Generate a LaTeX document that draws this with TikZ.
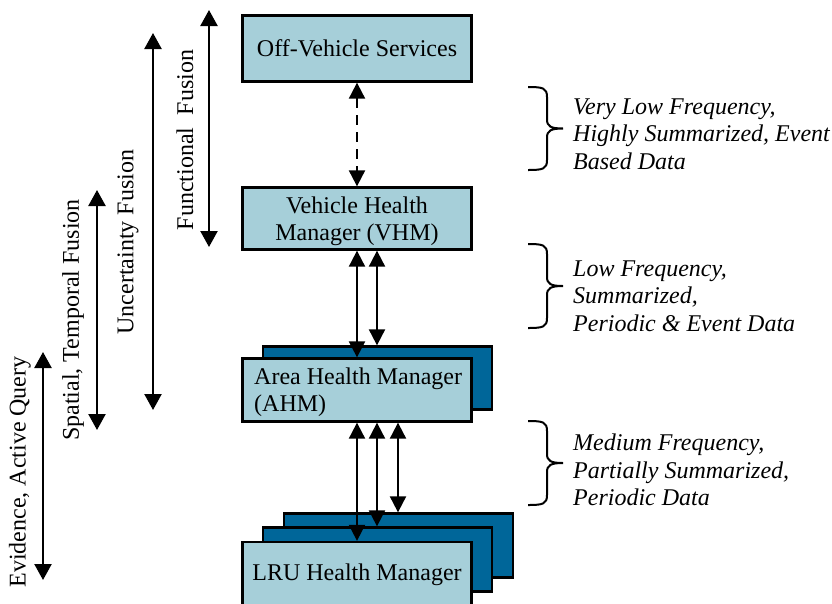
\documentclass[tikz,border=0pt]{standalone}
\usepackage{fontspec}
\setmainfont{Liberation Serif}
\usetikzlibrary{arrows.meta,calc}
\definecolor{boxfill}{RGB}{166,207,217}
\definecolor{stackfill}{RGB}{0,102,153}

% curly bracket opening to the left, tip pointing right: {x}{top}{bottom}
\newcommand\curlybrace[3]{%
  \pgfmathsetmacro\bmid{(#2+#3)/2}%
  \draw[bracepen] (#1,#2) .. controls (#1+15,#2) and (#1+19,#2+1) .. (#1+19,#2+10)
    -- (#1+19,\bmid-9) .. controls (#1+19,\bmid-2) and (#1+23,\bmid) .. (#1+35,\bmid)
    .. controls (#1+23,\bmid) and (#1+19,\bmid+2) .. (#1+19,\bmid+9)
    -- (#1+19,#3-10) .. controls (#1+19,#3-1) and (#1+15,#3) .. (#1,#3);%
}

\begin{document}
\begin{tikzpicture}[x=1pt,y=-1pt,
  font=\fontsize{24}{27.5}\selectfont,
  box/.style={draw, line width=2.3pt, fill=boxfill, minimum width=229pt,
    inner sep=0pt, align=center, font=\fontsize{24}{26}\selectfont},
  stackbox/.style={draw, line width=2.3pt, fill=stackfill, minimum width=229pt, inner sep=0pt},
  boxtext/.style={inner sep=0pt, font=\fontsize{24}{26.5}\selectfont},
  link/.style={line width=2pt, {Triangle[width=16pt,length=16pt]}-{Triangle[width=16pt,length=16pt]}},
  dashlink/.style={link, dash pattern=on 10pt off 7pt},
  span/.style={line width=2.3pt, {Triangle[width=17pt,length=16pt]}-{Triangle[width=17pt,length=16pt]}},
  spanlabel/.style={rotate=90, inner sep=0pt},
  note/.style={anchor=west, align=left, inner sep=0pt, font=\fontsize{24}{27.5}\selectfont\itshape},
  bracepen/.style={line width=2pt}]

\useasboundingbox (0,0) rectangle (832,603);
\clip (0,0) rectangle (832,603);

% health-management hierarchy
\node[box, minimum height=66pt] (ovs) at (357,48.5) {Off-Vehicle Services};
\node[box, minimum height=62pt] (vhm) at (357,218.5) {};
\node[boxtext, align=center] (vhmtext) at (357,221.5) {Vehicle Health\\Manager (VHM)};

\node[stackbox, minimum height=63pt] (ahmback) at (377.5,378) {};
\node[box, minimum height=63pt] (ahm) at (357,390) {};
\node[boxtext, anchor=west, align=left] (ahmtext) at (254,392) {Area Health Manager\\(AHM)};

\node[stackbox, minimum height=64pt] (lruback) at (398.5,545.5) {};
\node[stackbox, minimum height=64pt] (lrumid) at (377.5,559.5) {};
\node[box, minimum height=66pt] (lru) at (357,575) {LRU Health Manager};

% data links between levels
\coordinate (xb) at (377,0);
\coordinate (xc) at (398,0);
\draw[dashlink] (ovs.south) -- (vhm.north);
\draw[link] (vhm.south) -- (ahm.north);
\draw[link] (vhm.south -| xb) -- (ahmback.north -| xb);
\draw[link] (ahm.south) -- (lru.north);
\draw[link] (ahm.south -| xb) -- (lrumid.north -| xb);
\draw[link] (ahm.south -| xc) -- (lruback.north -| xc);

% fusion ranges
\coordinate (ff1) at (209,10);  \coordinate (ff2) at (209,247);
\coordinate (uf1) at (153,33);  \coordinate (uf2) at (153,410);
\coordinate (st1) at (97,190);  \coordinate (st2) at (97,430);
\coordinate (ev1) at (43,352);  \coordinate (ev2) at (43,580);
\draw[span] (ff1) -- (ff2);
\draw[span] (uf1) -- (uf2);
\draw[span] (st1) -- (st2);
\draw[span] (ev1) -- (ev2);
\node[spanlabel] (fflabel) at (185,140) {Functional\ \ Fusion};
\node[spanlabel] (uflabel) at (128,242) {Uncertainty Fusion};
\node[spanlabel] (stlabel) at (73,320) {Spatial, Temporal Fusion};
\node[spanlabel] (evlabel) at (20,472) {Evidence, Active Query};

% data characteristics
\curlybrace{528}{87}{170}
\curlybrace{528}{244}{328}
\curlybrace{528}{421}{505}
\node[note] (n1) at (573,134) {Very Low Frequency,\\Highly Summarized, Event\\Based Data};
\node[note] (n2) at (573,296) {Low Frequency,\\Summarized,\\Periodic \& Event Data};
\node[note] (n3) at (573,470) {Medium Frequency,\\Partially Summarized,\\Periodic Data};
\end{tikzpicture}
\end{document}
